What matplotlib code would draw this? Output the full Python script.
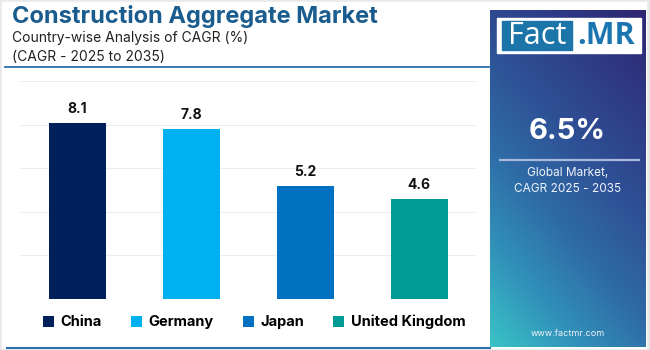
import numpy as np
import matplotlib
matplotlib.use("Agg")
import matplotlib.pyplot as plt
from matplotlib.patches import Rectangle
from matplotlib.colors import LinearSegmentedColormap

# ---- data -------------------------------------------------------------------
countries = ["China", "Germany", "Japan", "United Kingdom"]
cagr = [8.1, 7.8, 5.2, 4.6]
colors = ["#00205B", "#00B0F0", "#0070C0", "#009B95"]
global_cagr = "6.5%"

W, H = 650, 350
plt.rcParams["font.family"] = ["Inter", "DejaVu Sans"]

fig = plt.figure(figsize=(W / 100, H / 100), dpi=100)
fig.patch.set_facecolor("#e9e9e9")


def fx(x):
    return x / W


def fy(y):
    return 1 - y / H


# white card behind everything
fig.patches.append(Rectangle((fx(2), fy(348)), fx(646) - fx(2), fy(2) - fy(348),
                             transform=fig.transFigure, color="white", zorder=-10))

# ---- title block ------------------------------------------------------------
fig.text(fx(12), fy(16), "Construction Aggregate Market", fontsize=17, fontweight="bold",
         color="#1a5c8e", va="center", ha="left")
fig.text(fx(12), fy(38), "Country-wise Analysis of CAGR (%)", fontsize=10,
         color="#222222", va="center", ha="left")
fig.text(fx(12), fy(57), "(CAGR - 2025 to 2035)", fontsize=10,
         color="#222222", va="center", ha="left")
fig.add_artist(plt.Line2D([fx(5), fx(490)], [fy(67), fy(67)], transform=fig.transFigure,
                          color="#2c70b0", lw=1.3))
fig.add_artist(plt.Line2D([fx(7), fx(490)], [fy(348), fy(348)], transform=fig.transFigure,
                          color="#2c70b0", lw=1.5))

# ---- bar chart --------------------------------------------------------------
ax = fig.add_axes([fx(20), fy(299), fx(476) - fx(20), fy(81.3) - fy(299)])
ax.set_facecolor("none")
x = np.arange(len(countries))
bars = ax.bar(x, cagr, width=0.5, color=colors, zorder=2)
for xi, v in zip(x, cagr):
    ax.annotate(f"{v}", (xi, v), xytext=(0, 5), textcoords="offset points",
                ha="center", va="bottom", fontsize=10, fontweight="bold", color="#111111")
ax.set_xlim(-0.5, len(countries) - 0.5)
ax.set_ylim(0, 10)
ax.set_yticks(np.arange(0, 11, 2))
ax.grid(axis="y", color="#ededed", lw=0.8, zorder=0)
ax.tick_params(left=False, bottom=False, labelleft=False, labelbottom=False)
for s in ax.spines.values():
    s.set_visible(False)

fig.legend(bars, countries, ncol=4, loc="center", bbox_to_anchor=(fx(254), fy(322)),
           frameon=False, handlelength=0.75, handleheight=0.75, handletextpad=0.45,
           columnspacing=2.0, prop={"weight": "bold", "size": 10.5})

# ---- right panel ------------------------------------------------------------
pax = fig.add_axes([fx(490), fy(347), fx(646) - fx(490), fy(10) - fy(347)])
cmap = LinearSegmentedColormap.from_list(
    "panel", ["#3ac3c7", "#3191b9", "#2e6aa6", "#2e4f95", "#2f3a85", "#2d2672"])
gy, gx = np.mgrid[0:1:200j, 0:1:100j]
grad = 0.65 * gy + 0.35 * gx
pax.imshow(grad, cmap=cmap, origin="lower", extent=[0, 1, 0, 1], aspect="auto")
pax.set_xlim(0, 1)
pax.set_ylim(0, 1)
pax.axis("off")

# logo
fig.patches.append(Rectangle((fx(497), fy(53)), fx(641) - fx(497), fy(18) - fy(53),
                             transform=fig.transFigure, color="white", zorder=3))
fig.patches.append(Rectangle((fx(502), fy(50)), fx(572) - fx(502), fy(21) - fy(50),
                             transform=fig.transFigure, color="#1b75a9", zorder=4))
fig.text(fx(537), fy(36), "Fact", fontsize=22, color="white", ha="center", va="center",
         family=["Open Sans", "DejaVu Sans"], zorder=5)
fig.text(fx(606), fy(36), ".MR", fontsize=22, color="#1b75b0", ha="center", va="center",
         fontweight="bold", family=["Open Sans", "DejaVu Sans"], zorder=5)

fig.text(fx(567), fy(131), global_cagr, fontsize=21, fontweight="bold", color="white",
         ha="center", va="center", zorder=5)
fig.add_artist(plt.Line2D([fx(500), fx(639)], [fy(160), fy(160)], transform=fig.transFigure,
                          color="#a9b9dc", lw=1.6, zorder=5))
fig.text(fx(568), fy(173), "Global Market,", fontsize=8.5, color="#eef2fa",
         ha="center", va="center", zorder=5)
fig.text(fx(568), fy(189), "CAGR 2025 - 2035", fontsize=8.5, color="#eef2fa",
         ha="center", va="center", zorder=5)
fig.text(fx(568), fy(334), "www.factmr.com", fontsize=6.5, color="#eef2fa",
         ha="center", va="center", zorder=5)

fig.savefig("out.png", dpi=100, facecolor=fig.get_facecolor())
